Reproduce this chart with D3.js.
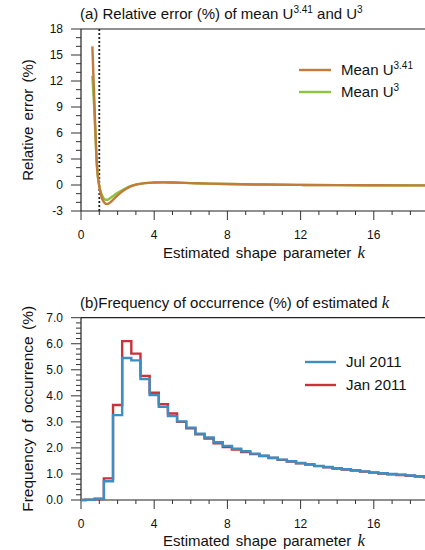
<!DOCTYPE html>
<html><head><meta charset="utf-8">
<script src="https://cdn.jsdelivr.net/npm/d3@7"></script>
<style>body{margin:0;background:#fff}svg{display:block}text{font-family:"Liberation Sans",Arial,sans-serif;fill:#111}</style>
</head><body><svg id="c" width="425" height="550"></svg>
<script>
// Panel (a): relative error curves
const kU341 = [0.62,0.66,0.7,0.75,0.8,0.85,0.9,0.95,1.0,1.1,1.2,1.3,1.4,1.5,1.6,1.8,2.0,2.25,2.5,2.75,3.0,3.5,4.0,4.5,5,6,7,8,10,12,14,16,18,20];
const errU341 = [16.0,13.7,11.4,8.5,5.7,3.0,1.5,0.5,-0.2,-1.2,-1.8,-2.1,-2.2,-2.15,-2.0,-1.6,-1.2,-0.75,-0.4,-0.12,0.05,0.22,0.28,0.3,0.28,0.22,0.16,0.11,0.05,0.01,-0.02,-0.03,-0.04,-0.05];
const kU3 = [0.62,0.66,0.7,0.75,0.8,0.85,0.9,0.95,1.0,1.1,1.2,1.3,1.4,1.5,1.6,1.8,2.0,2.25,2.5,2.75,3.0,3.5,4.0,4.5,5,6,7,8,10,12,14,16,18,20];
const errU3 = [12.6,11.2,9.8,7.6,5.2,2.9,1.4,0.5,-0.1,-0.9,-1.4,-1.65,-1.7,-1.65,-1.5,-1.2,-0.9,-0.6,-0.32,-0.1,0.05,0.22,0.28,0.3,0.28,0.22,0.16,0.11,0.05,0.01,-0.02,-0.03,-0.04,-0.05];
const refK = 1;
const yTicksA = [-3,0,3,6,9,12,15,18];
const xTicks = [0,4,8,12,16];

// Panel (b): frequency histograms (bin centres, width 0.5)
const binK = [0,0.5,1.0,1.5,2.0,2.5,3.0,3.5,4.0,4.5,5.0,5.5,6.0,6.5,7.0,7.5,8.0,8.5,9.0,9.5,10,10.5,11,11.5,12,12.5,13,13.5,14,14.5,15,15.5,16,16.5,17,17.5,18,18.5,19,19.5,20];
const freqJul = [0.0,0.01,0.05,0.72,3.26,5.45,5.36,4.64,4.03,3.58,3.22,3.02,2.78,2.55,2.40,2.22,2.08,1.97,1.87,1.78,1.70,1.62,1.55,1.49,1.42,1.37,1.31,1.27,1.22,1.18,1.14,1.10,1.06,1.03,1.00,0.97,0.94,0.91,0.88,0.86,0.83];
const freqJan = [0.0,0.01,0.04,0.83,3.65,6.10,5.62,4.76,4.12,3.68,3.32,3.00,2.75,2.52,2.36,2.18,2.03,1.94,1.84,1.76,1.69,1.61,1.54,1.48,1.41,1.36,1.30,1.26,1.21,1.17,1.13,1.09,1.05,1.02,0.99,0.96,0.93,0.90,0.87,0.85,0.82];
const yTicksB = [0,1,2,3,4,5,6,7];

const cOrange = "#c27b3a", cGreen = "#8cc43c", cBlue = "#3c8fc2", cRed = "#c8323a";
const FS = 15, TFS = 12;

const svg = d3.select("#c");
svg.append("rect").attr("width",425).attr("height",550).attr("fill","#fff");

function axes(g, x, y, yTicks, yMinorStep, yFmt, top, bottom){
  const [x0] = x.range();
  const y0 = y.domain()[0], y1 = y.domain()[1];
  g.append("line").attr("x1",x0).attr("x2",x.range()[1]).attr("y1",top).attr("y2",top).attr("stroke","#222").attr("stroke-width",1.2);
  g.append("line").attr("x1",x0).attr("x2",x.range()[1]).attr("y1",bottom).attr("y2",bottom).attr("stroke","#222").attr("stroke-width",1.2);
  g.append("line").attr("x1",x0).attr("x2",x0).attr("y1",top).attr("y2",bottom).attr("stroke","#222").attr("stroke-width",1.2);
  const n = Math.round((y1-y0)/yMinorStep);
  for(let i=0;i<=n;i++){
    const v = y0 + i*yMinorStep;
    const major = yTicks.some(t=>Math.abs(t-v)<1e-6);
    g.append("line").attr("x1",x0-(major?10:5)).attr("x2",x0).attr("y1",y(v)).attr("y2",y(v)).attr("stroke","#333").attr("stroke-width",1);
  }
  yTicks.forEach(t=>{
    g.append("text").attr("x",x0-18).attr("y",y(t)).attr("dy","0.36em").attr("text-anchor","end").attr("font-size",TFS).text(yFmt(t));
  });
  for(let v=0; v<=20; v++){
    const major = v%4===0;
    g.append("line").attr("x1",x(v)).attr("x2",x(v)).attr("y1",bottom).attr("y2",bottom+(major?9:4)).attr("stroke","#333").attr("stroke-width",1);
  }
  xTicks.forEach(t=>{
    g.append("text").attr("x",x(t)).attr("y",bottom+28).attr("text-anchor","middle").attr("font-size",TFS).text(t);
  });
}

function xTitle(g, cx, by){
  const t = g.append("text").attr("x",cx).attr("y",by).attr("text-anchor","middle").attr("font-size",FS).attr("word-spacing","2px");
  t.append("tspan").text("Estimated shape parameter ");
  t.append("tspan").attr("font-family","Liberation Serif, serif").attr("font-style","italic").attr("font-size",FS+2).text("k");
}

// ---------- Panel (a)
const xA = d3.scaleLinear().domain([0,20]).range([81,447]);
const yA = d3.scaleLinear().domain([-3,18]).range([211,29]);
const gA = svg.append("g");
axes(gA, xA, yA, yTicksA, 1, d=>d, 29, 211);
gA.append("line").attr("x1",xA(refK)).attr("x2",xA(refK)).attr("y1",29).attr("y2",211)
  .attr("stroke","#222").attr("stroke-width",1.8).attr("stroke-dasharray","2,2");
const lineA = (ks, vs) => d3.line().x((d,i)=>xA(ks[i])).y(d=>yA(d)).curve(d3.curveMonotoneX)(vs);
gA.append("path").attr("d",lineA(kU3,errU3)).attr("fill","none").attr("stroke",cGreen).attr("stroke-width",2.4);
gA.append("path").attr("d",lineA(kU341,errU341)).attr("fill","none").attr("stroke",cOrange).attr("stroke-width",2.4);
const tA = gA.append("text").attr("x",80).attr("y",19).attr("font-size",FS);
tA.append("tspan").text("(a) Relative error (%) of mean U");
tA.append("tspan").attr("font-size",10).attr("dy",-6).text("3.41");
tA.append("tspan").attr("dy",6).text(" and U");
tA.append("tspan").attr("font-size",10).attr("dy",-6).text("3");
gA.append("text").attr("transform",`translate(33,${(29+211)/2}) rotate(-90)`).attr("text-anchor","middle").attr("font-size",FS).attr("word-spacing","2px").text("Relative error (%)");
xTitle(gA, 264, 258);
[[cOrange,"3.41",70],[cGreen,"3",92]].forEach(([c,s,y])=>{
  gA.append("line").attr("x1",299).attr("x2",331).attr("y1",y).attr("y2",y).attr("stroke",c).attr("stroke-width",2.4);
  const t = gA.append("text").attr("x",341).attr("y",y+5).attr("font-size",FS);
  t.append("tspan").text("Mean U");
  t.append("tspan").attr("font-size",10).attr("dy",-6).text(s);
});

// ---------- Panel (b)
const xB = d3.scaleLinear().domain([0,20]).range([81,447]);
const yB = d3.scaleLinear().domain([0,7]).range([500,317.7]);
const gB = svg.append("g");
axes(gB, xB, yB, yTicksB, 0.2, d=>d.toFixed(1), 317.7, 500);
const lineB = vs => d3.line().x((d,i)=>xB(binK[i])).y(d=>yB(d)).curve(d3.curveStep)(vs);
gB.append("path").attr("d",lineB(freqJan)).attr("fill","none").attr("stroke",cRed).attr("stroke-width",2.4);
gB.append("path").attr("d",lineB(freqJul)).attr("fill","none").attr("stroke",cBlue).attr("stroke-width",2.4);
const tB = gB.append("text").attr("x",80).attr("y",308).attr("font-size",FS);
tB.append("tspan").text("(b)Frequency of occurrence (%) of estimated ");
tB.append("tspan").attr("font-family","Liberation Serif, serif").attr("font-style","italic").attr("font-size",FS+2).text("k");
gB.append("text").attr("transform",`translate(33,${(317.7+500)/2}) rotate(-90)`).attr("text-anchor","middle").attr("font-size",FS+0.5).attr("word-spacing","2px").text("Frequency of occurrence (%)");
xTitle(gB, 264, 546);
[[cBlue,"Jul 2011",362],[cRed,"Jan 2011",385]].forEach(([c,s,y])=>{
  gB.append("line").attr("x1",305).attr("x2",336).attr("y1",y).attr("y2",y).attr("stroke",c).attr("stroke-width",2.4);
  gB.append("text").attr("x",346).attr("y",y+5).attr("font-size",FS).text(s);
});
</script></body></html>
